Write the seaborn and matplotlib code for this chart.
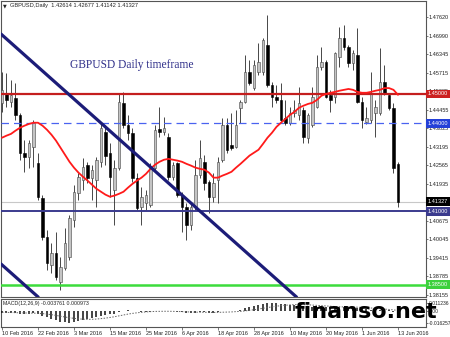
import numpy as np
import matplotlib
matplotlib.use("Agg")
import matplotlib.pyplot as plt
import seaborn as sns
from matplotlib.transforms import blended_transform_factory

# ---------------- data ----------------
date_labels = ['10 Feb 2016', '22 Feb 2016', '3 Mar 2016', '15 Mar 2016', '25 Mar 2016',
               '6 Apr 2016', '18 Apr 2016', '28 Apr 2016', '10 May 2016', '20 May 2016',
               '1 Jun 2016', '13 Jun 2016']
date_bars = [0, 8, 16, 24, 32, 40, 48, 56, 64, 72, 80, 88]

opens = [1.4470, 1.4504, 1.4473, 1.4487, 1.4429, 1.4300, 1.4286, 1.4320, 1.4266, 1.4147,
         1.4014, 1.3919, 1.3960, 1.3861, 1.3909, 1.3946, 1.4072, 1.4164, 1.4208, 1.4259,
         1.4215, 1.4208, 1.4269, 1.4371, 1.4300, 1.4174, 1.4249, 1.4470, 1.4395, 1.4368,
         1.4215, 1.4116, 1.4130, 1.4123, 1.4249, 1.4381, 1.4371, 1.4354, 1.4218, 1.4266,
         1.4157, 1.4116, 1.4055, 1.4116, 1.4225, 1.4269, 1.4201, 1.4150, 1.4208, 1.4276,
         1.4395, 1.4327, 1.4320, 1.4453, 1.4473, 1.4575, 1.4520, 1.4575, 1.4575, 1.4667,
         1.4531, 1.4490, 1.4480, 1.4419, 1.4402, 1.4436, 1.4429, 1.4446, 1.4351, 1.4395,
         1.4456, 1.4592, 1.4609, 1.4497, 1.4490, 1.4626, 1.4691, 1.4660, 1.4606, 1.4633,
         1.4473, 1.4405, 1.4412, 1.4436, 1.4436, 1.4541, 1.4497, 1.4453, 1.42614]
highs = [1.4575, 1.4572, 1.4548, 1.4538, 1.4436, 1.4344, 1.4344, 1.4412, 1.4300, 1.4157,
         1.4038, 1.3994, 1.4031, 1.3946, 1.4045, 1.4089, 1.4191, 1.4232, 1.4283, 1.4269,
         1.4259, 1.4286, 1.4402, 1.4395, 1.4334, 1.4276, 1.4504, 1.4507, 1.4429, 1.4385,
         1.4232, 1.4184, 1.4174, 1.4266, 1.4395, 1.4456, 1.4422, 1.4368, 1.4269, 1.4269,
         1.4167, 1.4130, 1.4130, 1.4276, 1.4344, 1.4293, 1.4208, 1.4232, 1.4286, 1.4419,
         1.4419, 1.4436, 1.4446, 1.4480, 1.4633, 1.4616, 1.4616, 1.4674, 1.4691, 1.4769,
         1.4541, 1.4531, 1.4538, 1.4480, 1.4456, 1.4480, 1.4524, 1.4456, 1.4436, 1.4524,
         1.4633, 1.4660, 1.4616, 1.4514, 1.4643, 1.4728, 1.4735, 1.4667, 1.4650, 1.4725,
         1.4490, 1.4456, 1.4575, 1.4480, 1.4657, 1.4599, 1.4504, 1.4470, 1.42677]
lows = [1.4439, 1.4456, 1.4456, 1.4412, 1.4276, 1.4235, 1.4249, 1.4252, 1.4140, 1.4004,
        1.3902, 1.3892, 1.3868, 1.3834, 1.3902, 1.3936, 1.4048, 1.4140, 1.4174, 1.4198,
        1.4140, 1.4116, 1.4252, 1.4259, 1.4150, 1.4055, 1.4242, 1.4385, 1.4344, 1.4201,
        1.4106, 1.4055, 1.4106, 1.4116, 1.4242, 1.4354, 1.4361, 1.4208, 1.4208, 1.4150,
        1.4031, 1.4004, 1.4038, 1.4106, 1.4215, 1.4174, 1.4096, 1.4133, 1.4130, 1.4269,
        1.4300, 1.4310, 1.4317, 1.4402, 1.4470, 1.4531, 1.4514, 1.4565, 1.4565, 1.4524,
        1.4456, 1.4470, 1.4405, 1.4395, 1.4395, 1.4422, 1.4412, 1.4334, 1.4334, 1.4388,
        1.4453, 1.4582, 1.4487, 1.4439, 1.4470, 1.4592, 1.4650, 1.4592, 1.4582, 1.4470,
        1.4385, 1.4398, 1.4402, 1.4354, 1.4429, 1.4497, 1.4446, 1.4232, 1.41142]
closes = [1.4514, 1.4480, 1.4497, 1.4429, 1.4300, 1.4286, 1.4334, 1.4402, 1.4150, 1.4014,
          1.3926, 1.3960, 1.3878, 1.3912, 1.3994, 1.4079, 1.4167, 1.4218, 1.4252, 1.4215,
          1.4242, 1.4276, 1.4385, 1.4290, 1.4218, 1.4249, 1.4473, 1.4395, 1.4368, 1.4215,
          1.4113, 1.4150, 1.4157, 1.4249, 1.4378, 1.4371, 1.4385, 1.4218, 1.4259, 1.4157,
          1.4116, 1.4055, 1.4116, 1.4225, 1.4283, 1.4198, 1.4150, 1.4198, 1.4269, 1.4395,
          1.4310, 1.4317, 1.4395, 1.4473, 1.4575, 1.4538, 1.4599, 1.4609, 1.4684, 1.4531,
          1.4490, 1.4480, 1.4412, 1.4402, 1.4436, 1.4446, 1.4470, 1.4354, 1.4429, 1.4490,
          1.4592, 1.4609, 1.4490, 1.4480, 1.4640, 1.4691, 1.4660, 1.4606, 1.4640, 1.4473,
          1.4412, 1.4419, 1.4504, 1.4456, 1.4541, 1.4504, 1.4453, 1.4249, 1.41327]
moving_avg = [1.4351, 1.4358, 1.4364, 1.4375, 1.4385, 1.4392, 1.4398, 1.4402, 1.4402, 1.4392,
              1.4378, 1.4361, 1.4341, 1.4317, 1.4293, 1.4269, 1.4249, 1.4232, 1.4218, 1.4205,
              1.4191, 1.4177, 1.4167, 1.4157, 1.4150, 1.4154, 1.4160, 1.4167, 1.4181, 1.4194,
              1.4205, 1.4215, 1.4228, 1.4245, 1.4259, 1.4269, 1.4276, 1.4279, 1.4276, 1.4273,
              1.4269, 1.4262, 1.4256, 1.4249, 1.4245, 1.4242, 1.4232, 1.4215, 1.4215, 1.4222,
              1.4228, 1.4235, 1.4249, 1.4262, 1.4276, 1.4290, 1.4300, 1.4310, 1.4330, 1.4351,
              1.4368, 1.4388, 1.4402, 1.4415, 1.4429, 1.4439, 1.4453, 1.4460, 1.4466, 1.4470,
              1.4480, 1.4494, 1.4500, 1.4504, 1.4507, 1.4511, 1.4514, 1.4517, 1.4514, 1.4507,
              1.4504, 1.4504, 1.4507, 1.4511, 1.4514, 1.4520, 1.4520, 1.4514, 1.4497]
# MACD(12,26,9), values in thousandths
macd_main_k = [-2.5, -2.6, -2.8, -2.9, -3.2, -3.4, -3.4, -3.0, -4.2, -6.2,
               -8.6, -10.4, -12.4, -14.2, -15.4, -16.0, -15.4, -14.0, -12.6, -11.0,
               -9.6, -8.0, -6.0, -4.8, -4.2, -3.2, -1.2, 0.4, 1.0, 0.8,
               -0.2, -0.6, -0.9, -0.7, -0.2, 0.2, 0.4, 0.0, -0.4, -0.9,
               -1.5, -2.2, -2.4, -2.0, -1.5, -1.6, -1.9, -1.8, -1.2, -0.4,
               -0.3, 0.1, 0.8, 2.0, 4.0, 5.5, 7.0, 8.4, 9.8, 10.8,
               11.2, 11.0, 10.4, 9.6, 8.8, 8.0, 7.4, 6.4, 5.8, 5.6,
               6.2, 6.4, 5.8, 5.2, 5.6, 6.2, 6.2, 5.8, 5.6, 4.6,
               3.0, 2.5, 2.3, 1.8, 2.0, 1.8, 1.3, -0.5, -3.761]
macd_signal_k = [-1.5, -1.6, -1.8, -2.0, -2.2, -2.4, -2.6, -2.7, -2.9, -3.3,
                 -4.0, -4.8, -5.8, -6.9, -8.0, -9.0, -9.8, -10.5, -11.0, -11.2,
                 -11.1, -10.8, -10.2, -9.5, -8.6, -7.6, -6.4, -5.2, -4.0, -3.0,
                 -2.2, -1.5, -1.0, -0.6, -0.3, -0.2, -0.1, -0.1, -0.2, -0.4,
                 -0.6, -0.9, -1.1, -1.3, -1.4, -1.5, -1.6, -1.7, -1.6, -1.4,
                 -1.2, -1.0, -0.6, -0.2, 0.4, 1.2, 2.0, 3.0, 4.0, 5.0,
                 6.0, 6.9, 7.6, 8.2, 8.7, 9.0, 9.1, 9.0, 8.8, 8.4,
                 8.0, 7.6, 7.2, 6.8, 6.4, 6.1, 5.9, 5.8, 5.7, 5.5,
                 5.2, 4.8, 4.4, 3.9, 3.4, 2.9, 2.4, 1.8, 0.973]

level_red = 1.45000
level_blue = 1.44000
level_navy = 1.41000
level_green = 1.38500
last_price = 1.41327
trend_upper = [(0, 1.4701), (44, 1.4101)]
trend_lower = [(0, 1.3918), (8, 1.3809)]

price_ticks = [1.47620, 1.46990, 1.46345, 1.45715, 1.45085, 1.44455, 1.43825, 1.43195,
               1.42565, 1.41935, 1.41305, 1.40675, 1.40045, 1.39415, 1.38785, 1.38155]
macd_ticks = [0.011236, 0.0, -0.016257]
macd_tick_labels = ['0.011236', '0.00', '-0.016257']

# ---------------- style ----------------
sns.set_theme(style="white")
plt.rcParams['font.family'] = ['Liberation Sans', 'DejaVu Sans']

W, H = 450, 337
fig = plt.figure(figsize=(4.5, 3.37), dpi=100)
fig.patch.set_facecolor('white')

def fx(px):
    return px / W

def fy(py):
    return 1 - py / H

ax = fig.add_axes([fx(1), fy(297), fx(425), 296 / H])
ax2 = fig.add_axes([fx(1), fy(327), fx(425), 28 / H])

o = np.array(opens); h = np.array(highs); l = np.array(lows); c = np.array(closes)
idx = np.arange(len(o))
bull = c >= o

ax.vlines(idx, l, h, color='#2a2a2a', lw=0.6, zorder=3)
ax.bar(idx[bull], (c - o)[bull], bottom=o[bull], width=0.64, color='#c4c4c4',
       edgecolor='#454545', linewidth=0.4, zorder=4)
ax.bar(idx[~bull], (o - c)[~bull], bottom=c[~bull], width=0.64, color='black',
       edgecolor='black', linewidth=0.4, zorder=4)

# levels
ax.axhline(last_price, color='#c8c8c8', lw=0.8, zorder=2)
ax.axhline(level_red, color='#c41e1e', lw=1.6, zorder=5)
ax.axhline(level_blue, color='#4a63f0', lw=0.9, ls=(0, (6, 4)), zorder=5)
ax.axhline(level_navy, color='#3b3b8e', lw=1.4, zorder=5)
ax.axhline(level_green, color='#3cdc3c', lw=1.8, zorder=5)

sns.lineplot(x=idx, y=moving_avg, ax=ax, color='#ff1a1a', lw=1.3, zorder=6, legend=False)

ax.axline(trend_upper[0], trend_upper[1], color='#1c1c78', lw=2.3, zorder=7)
ax.axline(trend_lower[0], trend_lower[1], color='#1c1c78', lw=2.3, zorder=7)

xlim = (-1 / 4.5, 424 / 4.5)
ax.set_xlim(*xlim)
ax.set_ylim(1.48199 - 0.0003405 * 297, 1.48199 - 0.0003405 * 1)

ax.yaxis.tick_right()
ax.set_yticks(price_ticks)
ax.set_yticklabels([f"{t:.5f}" for t in price_ticks])
ax.tick_params(axis='y', right=True, length=1.5, width=0.5, pad=0.6, labelsize=4.0,
               labelcolor='#222222', color='#444444')
ax.set_xticks([])
for s in ax.spines.values():
    s.set_color('#555555'); s.set_linewidth(0.8)

tr = blended_transform_factory(ax.transAxes, ax.transData)
for val, col in [(level_red, '#cc1f1f'), (level_blue, '#2440d8'), (last_price, '#000000'),
                 (level_navy, '#3b3b8e'), (level_green, '#3cd03c')]:
    ax.text(1.0045, val, f"{val:.5f}", transform=tr, ha='left', va='center', fontsize=4.0,
            color='white', zorder=10, clip_on=False,
            bbox=dict(boxstyle='square,pad=0.35', fc=col, ec='none'))

# MACD panel
mm = np.array(macd_main_k) / 1000.0
ms = np.array(macd_signal_k) / 1000.0
ax2.vlines(idx, 0, mm, color='#111111', lw=1.1, zorder=3)
sns.lineplot(x=idx, y=ms, ax=ax2, color='#666666', lw=0.7, linestyle=(0, (1.5, 1.5)),
             zorder=4, legend=False)
ax2.set_xlim(*xlim)
ax2.set_ylim((311.2 - 327) * 0.0013747, (311.2 - 299) * 0.0013747)
ax2.yaxis.tick_right()
ax2.set_yticks(macd_ticks)
ax2.set_yticklabels(macd_tick_labels)
ax2.tick_params(axis='y', right=True, length=1.5, width=0.5, pad=0.6, labelsize=3.6,
                labelcolor='#222222', color='#444444')
ax2.set_xticks(date_bars)
ax2.set_xticklabels(date_labels, ha='left')
ax2.tick_params(axis='x', bottom=True, length=2, width=0.5, pad=1.2, labelsize=4.0,
                labelcolor='#222222', color='#444444')
ax2.set_xlabel(''); ax2.set_ylabel(''); ax.set_xlabel(''); ax.set_ylabel('')
for s in ax2.spines.values():
    s.set_color('#555555'); s.set_linewidth(0.8)

# texts
fig.text(fx(3), fy(6), "\u25bc", fontsize=3.5, color='#222222', va='center', ha='left',
         family=['DejaVu Sans'])
fig.text(fx(10), fy(6), "GBPUSD,Daily  1.42614 1.42677 1.41142 1.41327", fontsize=4.1,
         color='#222222', va='center', ha='left')
fig.text(fx(70), fy(65), "GBPUSD Daily timeframe", fontsize=8.3, color='#30308a',
         va='center', ha='left', family=['Liberation Serif', 'DejaVu Serif'])
fig.text(fx(3), fy(304), "MACD(12,26,9) -0.003761 0.000973", fontsize=3.8,
         color='#222222', va='center', ha='left')
fig.text(fx(295), fy(318), "finanso.net", fontsize=16, fontweight='bold', color='black',
         va='baseline', ha='left', family=['DejaVu Sans'], zorder=20)

fig.savefig("out.png", dpi=100, facecolor='white')
